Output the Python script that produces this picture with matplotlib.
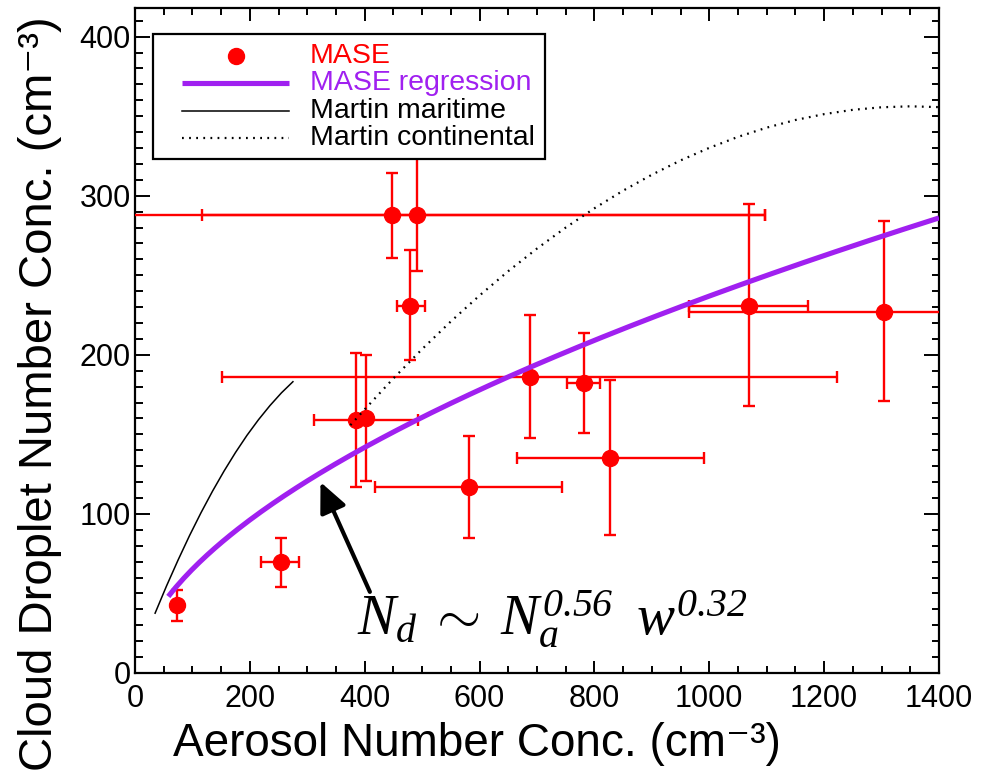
import matplotlib
matplotlib.use("Agg")
import matplotlib.pyplot as plt
from matplotlib.patches import Rectangle
from matplotlib.ticker import MultipleLocator
import numpy as np

plt.rcParams["font.family"] = ["Liberation Sans", "DejaVu Sans"]
# serif italic math for the scaling-law annotation (digits included)
plt.rcParams["mathtext.fontset"] = "custom"
plt.rcParams["mathtext.rm"] = "Liberation Serif:italic"
plt.rcParams["mathtext.it"] = "Liberation Serif:italic"

# MASE cloud/aerosol pairs (cm^-3) with min/max ranges
mase_na = [74, 254, 385, 402, 448, 491, 479, 581, 688, 781, 827, 1069, 1305]
mase_nd = [43, 70, 159, 160, 288, 288, 231, 117, 186, 182, 135, 231, 227]
na_lo = [74, 219, 312, 402, 116, -100, 456, 418, 152, 752, 666, 965, 965]
na_hi = [74, 286, 492, 402, 1097, 1097, 505, 744, 1223, 809, 991, 1172, 1500]
nd_lo = [33, 54, 117, 121, 261, 253, 197, 85, 148, 151, 87, 168, 171]
nd_hi = [52, 85, 201, 200, 314, 330, 266, 149, 225, 214, 184, 295, 284]

# power-law fit Nd ~ Na^0.56
reg_coef = 4.95
reg_exp = 0.56
reg_range = [58, 1400]

# Martin et al. curves
mar_na = [35, 55, 75, 95, 115, 135, 155, 175, 195, 215, 235, 255, 275]
mar_nd = [37.6, 54.8, 71.0, 86.4, 100.8, 114.3, 126.9, 138.6, 149.4, 159.2, 168.1, 176.1, 183.1]
con_na = [375, 400, 450, 500, 550, 600, 650, 700, 750, 800, 850, 900, 950, 1000,
          1050, 1100, 1150, 1200, 1250, 1300, 1350, 1400]
con_nd = [155.8, 165.7, 185.2, 203.6, 221.0, 237.3, 252.6, 266.8, 280.0, 292.1,
          303.2, 313.2, 322.2, 330.1, 337.0, 342.8, 347.6, 351.3, 354.0, 355.6, 356.2, 355.7]

legend_labels = ["MASE", "MASE regression", "Martin maritime", "Martin continental"]

RED = "#ff0000"
PURPLE = "#a020f0"
DOTS = (0, (0.8, 2.4))

fig = plt.figure(figsize=(9.94, 7.74), dpi=100)
ax = fig.add_axes([135 / 994, 1 - 673 / 774, 804 / 994, 665 / 774])

na = np.array(mase_na, float)
nd = np.array(mase_nd, float)
xerr = [na - np.array(na_lo), np.array(na_hi) - na]
yerr = [nd - np.array(nd_lo), np.array(nd_hi) - nd]
ax.errorbar(na, nd, xerr=xerr, yerr=yerr, fmt="o", color=RED, ms=11.5,
            elinewidth=1.7, capsize=4, capthick=1.7, zorder=3)

na_fit = np.linspace(reg_range[0], reg_range[1], 200)
ax.plot(na_fit, reg_coef * na_fit ** reg_exp, color=PURPLE, lw=3.7,
        solid_capstyle="butt", zorder=5)
ax.plot(mar_na, mar_nd, color="k", lw=1.1, zorder=4)
ax.plot(con_na, con_nd, color="k", lw=1.6, ls=DOTS, zorder=4)

ax.annotate("", xy=(323, 120), xytext=(409, 51),
            arrowprops=dict(arrowstyle="-|>,head_length=0.7,head_width=0.32",
                            lw=3, color="k", mutation_scale=26, shrinkA=0, shrinkB=0))
ax.text(386, 24, r"$N_d\;\sim\;N_a^{0.56}\;\;w^{0.32}$",
        fontsize=41, ha="left", va="baseline", zorder=6)

ax.set_xlim(0, 1400)
ax.set_ylim(0, 418)
ax.xaxis.set_major_locator(MultipleLocator(200))
ax.xaxis.set_minor_locator(MultipleLocator(50))
ax.yaxis.set_major_locator(MultipleLocator(100))
ax.yaxis.set_minor_locator(MultipleLocator(10))
ax.tick_params(which="both", direction="in", top=True, right=True, width=1.4)
ax.tick_params(axis="x", which="major", length=9, labelsize=22, pad=8)
ax.tick_params(axis="x", which="minor", length=4.8)
ax.tick_params(axis="y", which="major", length=10.8, labelsize=22, pad=3)
ax.tick_params(axis="y", which="minor", length=5.4)
for sp in ax.spines.values():
    sp.set_linewidth(1.6)

fig.text(477 / 994, 1 - 756 / 774, "Aerosol Number Conc. (cm\u207b\u00b3)",
         fontsize=33, ha="center", va="baseline")
fig.text(40 / 994, 1 - 394 / 774, "Cloud Droplet Number Conc. (cm\u207b\u00b3)",
         fontsize=34, ha="center", va="center", rotation=90)

# legend box drawn in axes coordinates
tr = ax.transAxes
ax.add_patch(Rectangle((0.0224, 0.7725), 0.4876, 0.1885, transform=tr,
                       facecolor="white", edgecolor="k", lw=1.6, zorder=10))
rows = [0.9278, 0.8872, 0.8451, 0.8045]
h0, h1, tx = 0.0581, 0.1919, 0.2177
ax.plot([(h0 + h1) / 2], [rows[0]], "o", color=RED, ms=11.5, transform=tr, zorder=11)
ax.plot([h0, h1], [rows[1]] * 2, color=PURPLE, lw=3.7, solid_capstyle="butt",
        transform=tr, zorder=11)
ax.plot([h0, h1], [rows[2]] * 2, color="k", lw=1.1, transform=tr, zorder=11)
ax.plot([h0, h1], [rows[3]] * 2, color="k", lw=1.6, ls=DOTS, transform=tr, zorder=11)
for lab, yy, col in zip(legend_labels, rows, [RED, PURPLE, "k", "k"]):
    ax.text(tx, yy, lab, color=col, fontsize=20.5, ha="left", va="center",
            transform=tr, zorder=12)

fig.savefig("out.png", dpi=100)
